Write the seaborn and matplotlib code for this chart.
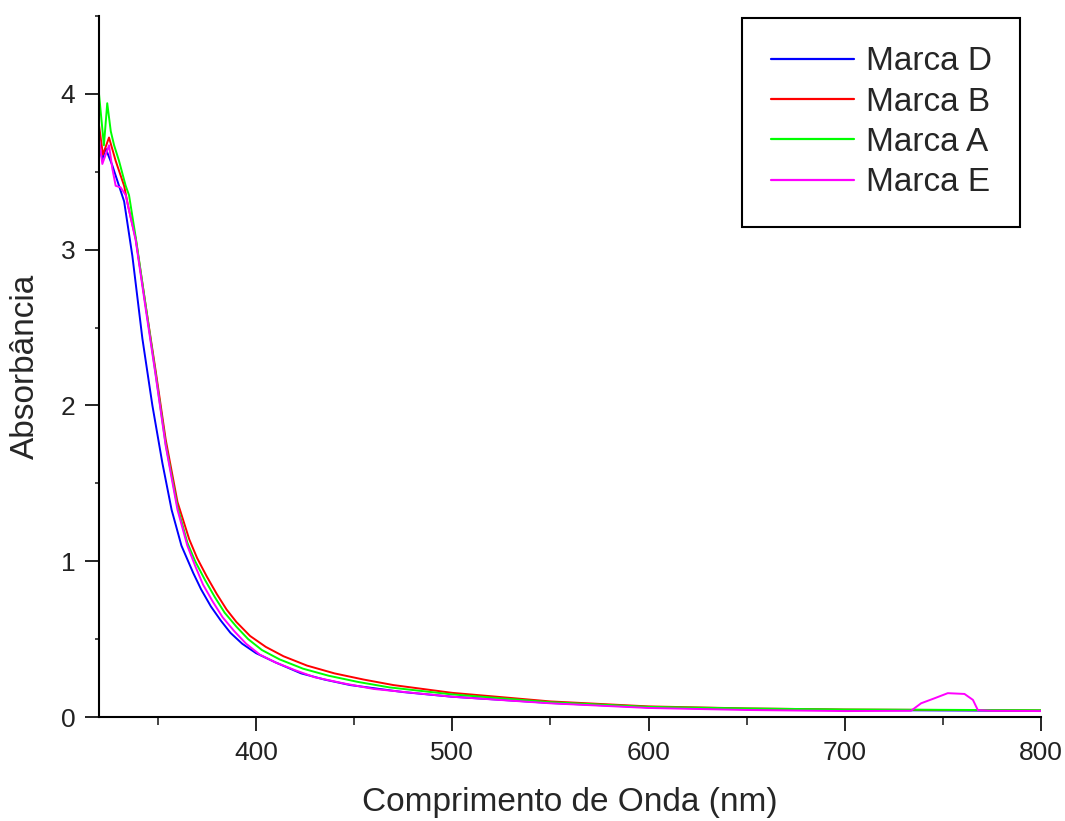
import pandas as pd
import matplotlib
matplotlib.use("Agg")
import matplotlib.pyplot as plt
from matplotlib.ticker import MultipleLocator
import seaborn as sns

# values (wavelength in nm, absorbance)
wl_d = [320, 321.7, 323.4, 326.8, 330.2, 332.8, 337, 342.1, 347.2, 352.3, 357, 362,
        368, 372, 377, 382, 387, 393, 400, 410, 423, 435, 448, 475, 500, 550, 600,
        650, 700, 750, 800]
abs_d = [3.67, 3.58, 3.65, 3.54, 3.41, 3.31, 2.96, 2.43, 2.00, 1.63, 1.33, 1.10,
         0.925, 0.82, 0.71, 0.62, 0.54, 0.47, 0.41, 0.35, 0.28, 0.24, 0.205, 0.16, 0.13,
         0.09, 0.062, 0.05, 0.045, 0.042, 0.04]

wl_b = [320, 322, 325.1, 328.5, 332.8, 335, 338.7, 343.8, 348.9, 354, 360, 366,
        370, 375, 380, 385, 390, 397, 405, 414, 426, 440, 455, 470, 500, 550, 600,
        650, 700, 750, 800]
abs_b = [3.80, 3.61, 3.72, 3.57, 3.41, 3.27, 3.07, 2.64, 2.22, 1.78, 1.38, 1.14,
         1.02, 0.90, 0.79, 0.69, 0.61, 0.52, 0.45, 0.39, 0.33, 0.28, 0.24, 0.205, 0.155,
         0.10, 0.068, 0.055, 0.048, 0.045, 0.042]

wl_a = [320, 322.5, 324.2, 326, 327.7, 330.2, 333.6, 335.3, 338.7, 343.8, 348.9, 354,
        360, 365, 369, 374, 379, 384, 390, 396, 403, 412, 424, 437, 452, 468, 500,
        550, 600, 650, 700, 750, 800]
abs_a = [4.00, 3.67, 3.94, 3.76, 3.67, 3.57, 3.41, 3.35, 3.08, 2.64, 2.20, 1.75,
         1.35, 1.12, 1.00, 0.88, 0.77, 0.67, 0.58, 0.50, 0.43, 0.37, 0.31, 0.265, 0.225,
         0.19, 0.145, 0.095, 0.065, 0.055, 0.048, 0.046, 0.043]

wl_e = [320, 321.7, 323.4, 325.1, 326.8, 328.5, 331, 333.6, 338.7, 343.8, 348.9, 354,
        360, 365, 369, 373, 378, 383, 389, 395, 402, 410, 420, 430, 445, 460, 500,
        550, 600, 650, 700, 733.8, 738.9, 745.7, 752.5, 761, 765.3, 767.8, 775, 800]
abs_e = [3.72, 3.55, 3.61, 3.67, 3.52, 3.41, 3.40, 3.35, 3.06, 2.62, 2.19, 1.74,
         1.33, 1.10, 0.97, 0.85, 0.74, 0.64, 0.55, 0.47, 0.40, 0.35, 0.30, 0.255, 0.215,
         0.18, 0.13, 0.088, 0.058, 0.045, 0.038, 0.04, 0.088, 0.12, 0.153, 0.148, 0.11,
         0.045, 0.04, 0.038]

marcas = ["Marca D", "Marca B", "Marca A", "Marca E"]
cores = {"Marca D": "#0000FF", "Marca B": "#FF0000", "Marca A": "#00FF00", "Marca E": "#FF00FF"}

frames = []
for nome, wl, ab in zip(marcas, [wl_d, wl_b, wl_a, wl_e], [abs_d, abs_b, abs_a, abs_e]):
    frames.append(pd.DataFrame({"wl": wl, "abs": ab, "marca": nome}))
df = pd.concat(frames, ignore_index=True)

sns.set_style("ticks")
plt.rcParams["font.family"] = ["Liberation Sans", "DejaVu Sans"]

fig = plt.figure(figsize=(10.65, 8.21), dpi=100)
ax = fig.add_axes([99 / 1065, 104 / 821, 942 / 1065, 701 / 821])

sns.lineplot(data=df, x="wl", y="abs", hue="marca", hue_order=marcas, palette=cores,
             estimator=None, sort=True, linewidth=1.4, ax=ax)

ax.set_xlim(320, 800)
ax.set_ylim(0, 4.5)
ax.xaxis.set_major_locator(MultipleLocator(100))
ax.xaxis.set_minor_locator(MultipleLocator(50))
ax.yaxis.set_major_locator(MultipleLocator(1))
ax.yaxis.set_minor_locator(MultipleLocator(0.5))

for s in ["top", "right"]:
    ax.spines[s].set_visible(False)
for s in ["left", "bottom"]:
    ax.spines[s].set_linewidth(1.5)
    ax.spines[s].set_color("black")

ax.tick_params(which="major", direction="out", length=10, width=1.2, labelsize=19,
               pad=7, colors="black", labelcolor="#222222")
ax.tick_params(axis="x", which="minor", direction="out", length=6, width=1.2)
ax.tick_params(axis="y", which="minor", direction="out", length=3, width=1.2)

ax.set_xlabel("Comprimento de Onda (nm)", fontsize=24, labelpad=16)
ax.set_ylabel("Absorbância", fontsize=24, labelpad=14)

leg = ax.legend(loc="upper right", bbox_to_anchor=(1020 / 1065, 1 - 18 / 821),
                bbox_transform=fig.transFigure, borderaxespad=0, fontsize=24,
                frameon=True, fancybox=False, edgecolor="black", framealpha=1,
                handlelength=2.5, handletextpad=0.35, labelspacing=0.28, borderpad=0.85)
leg.get_frame().set_linewidth(1.5)
for line in leg.get_lines():
    line.set_linewidth(1.6)

fig.savefig("out.png", dpi=100)
